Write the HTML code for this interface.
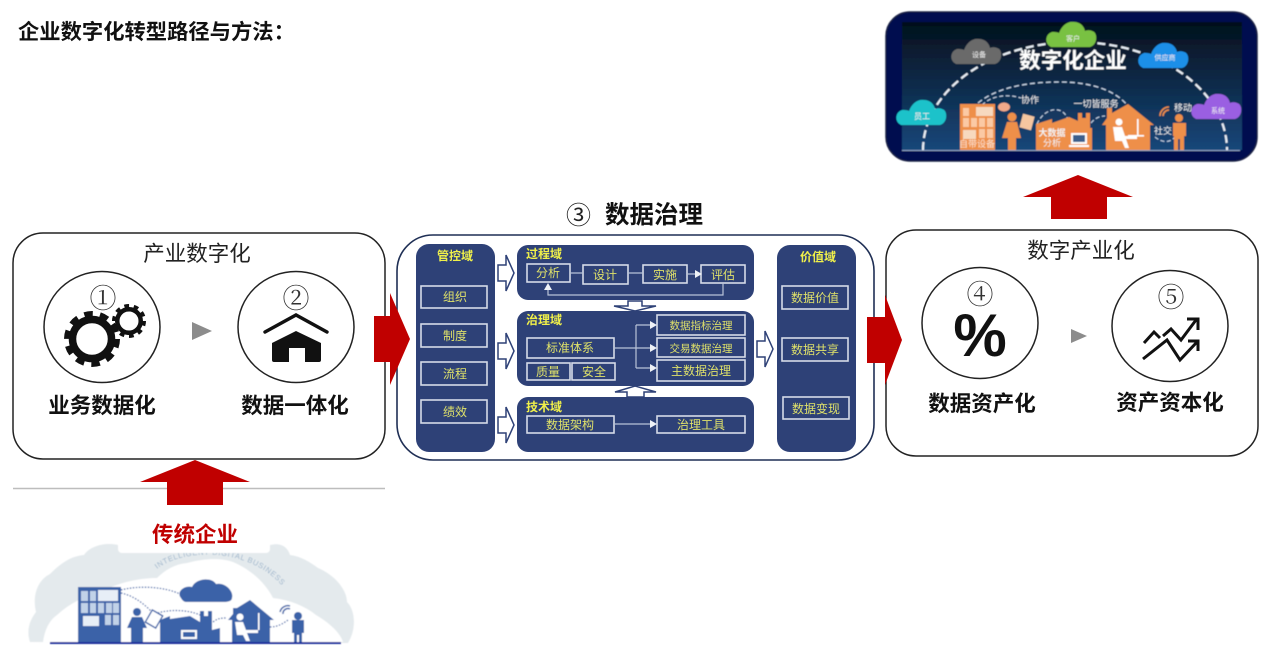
<!DOCTYPE html>
<html lang="zh">
<head>
<meta charset="utf-8">
<title>企业数字化转型路径与方法</title>
<style>
html,body{margin:0;padding:0;background:#fff;}
svg{display:block;}
text{font-family:"Liberation Sans","Noto Sans CJK SC",sans-serif;}
.lab{font-size:21.5px;font-weight:700;fill:#111;text-anchor:middle;}
.hd{font-size:21.5px;fill:#222;text-anchor:middle;}
.num{font-family:"Noto Serif CJK SC",serif;font-size:27px;fill:#333;text-anchor:middle;}
.y{font-size:12px;fill:#dfe16a;text-anchor:middle;}
.yb{font-size:12px;font-weight:700;fill:#f0f04a;text-anchor:middle;}
.bx{fill:#2e4177;stroke:#d5dbe8;stroke-width:1.6;}
.pn{fill:#2e4177;}
.cn{stroke:#b9c3d8;stroke-width:1.2;fill:none;}
.ah{fill:#eef1f6;}
.ha{fill:#fff;stroke:#2e4177;stroke-width:1.5;}
.w{fill:#f2f2f2;text-anchor:middle;}
.o{fill:#ee8f4a;}
.b{fill:#3a62a8;}
</style>
</head>
<body>
<svg width="1269" height="654" viewBox="0 0 1269 654" xmlns="http://www.w3.org/2000/svg">
<defs>
<linearGradient id="sky" x1="0" y1="0" x2="0" y2="1"><stop offset="0" stop-color="#04101c"/><stop offset="1" stop-color="#18477a"/></linearGradient>
<filter id="bl"><feGaussianBlur stdDeviation="0.45"/></filter>
<path id="cl" d="M-22 8a8 8 0 0 1 1-15c3 0 5 0 7 1 3-8 9-12 15-11 6 0 10 4 11 9 2-1 5-1 7 0 6 1 6 14-2 16z"/>
</defs>
<rect width="1269" height="654" fill="#fff"/>

<text x="18" y="39" font-size="21.3" font-weight="700" fill="#111">企业数字化转型路径与方法：</text>

<!-- Left box -->
<rect x="13" y="233" width="372" height="226" rx="30" fill="#fff" stroke="#222" stroke-width="1.5"/>
<text class="hd" x="197" y="261">产业数字化</text>
<ellipse cx="102" cy="327" rx="58" ry="55.5" fill="#fff" stroke="#222" stroke-width="1.5"/>
<ellipse cx="296" cy="327" rx="58" ry="55.5" fill="#fff" stroke="#222" stroke-width="1.5"/>
<text class="num" x="103" y="308">①</text>
<text class="num" x="296" y="308">②</text>
<g fill="none" stroke="#111">
<circle cx="92" cy="339" r="19.5" stroke-width="7.5"/>
<circle cx="92" cy="339" r="25" stroke-width="6" stroke-dasharray="8.5 7.2"/>
<circle cx="129" cy="321" r="11.75" stroke-width="4.5"/>
<circle cx="129" cy="321" r="15" stroke-width="4" stroke-dasharray="4.7 4.72"/>
</g>
<polyline points="265,332 296,315 327,332" fill="none" stroke="#111" stroke-width="3.4" stroke-linecap="round"/>
<path d="M296 331 L321 343 V360 q0 2-2 2 H305 V348 H289 V362 H274 q-2 0-2-2 V343Z" fill="#111"/>
<polygon points="192,322 212,331 192,340" fill="#8c8c8c"/>
<text class="lab" x="102" y="413">业务数据化</text>
<text class="lab" x="295" y="413">数据一体化</text>

<!-- Right box -->
<rect x="886" y="230" width="372" height="226" rx="30" fill="#fff" stroke="#222" stroke-width="1.5"/>
<text class="hd" x="1081" y="258">数字产业化</text>
<ellipse cx="980" cy="323" rx="58" ry="55.5" fill="#fff" stroke="#222" stroke-width="1.5"/>
<ellipse cx="1170" cy="326" rx="58" ry="55.5" fill="#fff" stroke="#222" stroke-width="1.5"/>
<text class="num" x="980" y="304">④</text>
<text class="num" x="1171" y="307">⑤</text>
<text x="980" y="356" font-size="60" font-weight="700" fill="#111" text-anchor="middle" style="font-family:'Liberation Sans',sans-serif">%</text>
<g fill="none" stroke="#111" stroke-width="3">
<path d="M1144 343L1154 332L1160 338M1163 336L1171 329L1181 340L1196 320"/>
<path d="M1187 319H1198V330"/>
<path d="M1143 359L1167 340L1180 360L1197 342"/>
<path d="M1188 341H1198V351"/>
</g>
<polygon points="1071,329 1087,336 1071,343" fill="#8c8c8c"/>
<text class="lab" x="982" y="411">数据资产化</text>
<text class="lab" x="1170" y="410">资产资本化</text>

<!-- Middle box -->
<text x="566" y="224" font-size="25" fill="#222" font-family="Noto Sans CJK SC">③</text>
<text x="605" y="223" font-size="24.5" font-weight="700" fill="#111">数据治理</text>
<rect x="397" y="235" width="477" height="225" rx="36" fill="#fff" stroke="#1f2f55" stroke-width="1.6"/>
<rect class="pn" x="416" y="244" width="79" height="208" rx="13"/>
<rect class="pn" x="517" y="245" width="237" height="55" rx="11"/>
<rect class="pn" x="517" y="311" width="237" height="75" rx="11"/>
<rect class="pn" x="517" y="397" width="237" height="55" rx="11"/>
<rect class="pn" x="777" y="245" width="79" height="207" rx="13"/>

<text class="yb" x="455" y="260">管控域</text>
<text class="yb" x="544" y="258">过程域</text>
<text class="yb" x="544" y="324">治理域</text>
<text class="yb" x="544" y="411">技术域</text>
<text class="yb" x="818" y="261">价值域</text>

<rect class="bx" x="421" y="286" width="66" height="22"/><text class="y" x="455" y="301">组织</text>
<rect class="bx" x="421" y="324" width="66" height="23"/><text class="y" x="455" y="340">制度</text>
<rect class="bx" x="421" y="362" width="66" height="23"/><text class="y" x="455" y="378">流程</text>
<rect class="bx" x="421" y="400" width="66" height="23"/><text class="y" x="455" y="416">绩效</text>

<rect class="bx" x="527" y="264" width="43" height="18"/><text class="y" x="548" y="277">分析</text>
<rect class="bx" x="583" y="265" width="45" height="19"/><text class="y" x="605" y="279">设计</text>
<rect class="bx" x="643" y="265" width="44" height="18"/><text class="y" x="665" y="279">实施</text>
<rect class="bx" x="701" y="265" width="44" height="18"/><text class="y" x="723" y="279">评估</text>
<path class="cn" d="M570 273H583M628 273H643M687 274H697M723 283V295H548V288"/>
<polygon class="ah" points="695,270 702,274 695,278"/>
<polygon class="ah" points="548,283 544,290 552,290"/>

<rect class="bx" x="527" y="338" width="87" height="20"/><text class="y" x="570" y="352">标准体系</text>
<rect class="bx" x="527" y="363" width="43" height="17"/><text class="y" x="548" y="376">质量</text>
<rect class="bx" x="572" y="363" width="43" height="17"/><text class="y" x="594" y="376">安全</text>
<rect class="bx" x="657" y="315" width="88" height="20"/><text class="y" x="701" y="329" style="font-size:10.5px">数据指标治理</text>
<rect class="bx" x="657" y="338" width="88" height="19"/><text class="y" x="701" y="352" style="font-size:10.5px">交易数据治理</text>
<rect class="bx" x="657" y="360" width="88" height="21"/><text class="y" x="701" y="375">主数据治理</text>
<path class="cn" d="M614 348H652M636 325V368M636 325H652M636 368H652"/>
<polygon class="ah" points="650,321 657,325 650,329"/>
<polygon class="ah" points="650,344 657,348 650,352"/>
<polygon class="ah" points="650,364 657,368 650,372"/>

<rect class="bx" x="527" y="416" width="87" height="17"/><text class="y" x="570" y="429">数据架构</text>
<rect class="bx" x="657" y="416" width="88" height="17"/><text class="y" x="701" y="429">治理工具</text>
<path class="cn" d="M614 424H652"/>
<polygon class="ah" points="650,420 657,424 650,428"/>

<rect class="bx" x="782" y="286" width="66" height="23"/><text class="y" x="815" y="302">数据价值</text>
<rect class="bx" x="782" y="338" width="66" height="23"/><text class="y" x="815" y="354">数据共享</text>
<rect class="bx" x="783" y="397" width="66" height="22"/><text class="y" x="816" y="413">数据变现</text>

<!-- hollow arrows -->
<polygon class="ha" points="498,265 506,265 506,255 514,273 506,291 506,281 498,281"/>
<polygon class="ha" points="498,343 506,343 506,333 514,351 506,369 506,359 498,359"/>
<polygon class="ha" points="498,417 506,417 506,407 514,425 506,443 506,433 498,433"/>
<polygon class="ha" points="757,341 765,341 765,331 773,349 765,367 765,357 757,357"/>
<polygon class="ha" points="614,306 628,306 628,301 642,301 642,306 656,306 635,311"/>
<polygon class="ha" points="615,392 635,386 656,392 644,392 644,397 627,397 627,392"/>

<!-- red arrows -->
<polygon points="374,316 390,316 390,293 410,339 390,385 390,362 374,362" fill="#c00000"/>
<polygon points="867,317 885,317 885,295 902,340 885,385 885,363 867,363" fill="#c00000"/>
<line x1="13" y1="488.5" x2="385" y2="488.5" stroke="#bdbdbd" stroke-width="1.4"/>
<polygon points="195,460 250,482 223,482 223,505 167,505 167,482 140,482" fill="#c00000"/>
<polygon points="1078,175 1133,197 1107,197 1107,219 1051,219 1051,197 1023,197" fill="#c00000"/>

<!-- Top picture -->
<g filter="url(#bl)">
<rect x="886" y="12" width="371" height="149" rx="24" fill="#02084f" stroke="#1a2345" stroke-width="1.5"/>
<rect x="902" y="22" width="340" height="128" fill="url(#sky)"/>
<line x1="902" y1="150.5" x2="1240" y2="150.5" stroke="#8ea3c5" stroke-width="1"/>
<path d="M923 150A152 108 0 0 1 1227 150" fill="none" stroke="#e8eef5" stroke-width="2.2" stroke-dasharray="8 4"/>
<path d="M978 103C1000 85 1035 82 1060 82C1090 82 1115 90 1127 105" fill="none" stroke="#c7d5e6" stroke-width="1.3" stroke-dasharray="5 3"/>
<path d="M982 105C990 97 1005 93 1021 98M1037 124C1045 106 1065 105 1068 121M1091 123C1095 118 1100 116 1105 116M1155 137C1162 143 1170 143 1175 137" fill="none" stroke="#c7d5e6" stroke-width="1.1" stroke-dasharray="4 2.5"/>

<use href="#cl" x="1073" y="39" fill="#79c143"/>
<use href="#cl" x="978" y="56" fill="#6a6a6a"/>
<use href="#cl" x="1165" y="60" fill="#1e8fe8"/>
<use href="#cl" x="923" y="117" fill="#1fc2ca"/>
<use href="#cl" x="1218" y="111" fill="#9a5fe2"/>
<text class="w" x="1073" y="41" font-size="7">客户</text>
<text class="w" x="979" y="57" font-size="7">设备</text>
<text class="w" x="1165" y="60" font-size="7">供应商</text>
<text class="w" x="922" y="119" font-size="8">员工</text>
<text class="w" x="1218" y="113" font-size="7">系统</text>
<text x="1073" y="68" font-size="21.5" font-weight="700" fill="#fff" text-anchor="middle">数字化企业</text>

<rect class="o" x="960" y="104" width="35" height="46"/>
<g fill="#fbc9a4">
<rect x="963" y="108" width="6" height="8"/>
<rect x="963" y="118" width="6" height="9"/><rect x="971" y="118" width="6" height="9"/><rect x="979" y="118" width="6" height="9"/><rect x="987" y="118" width="6" height="9"/>
<rect x="979" y="129" width="6" height="9"/><rect x="987" y="129" width="6" height="9"/>
</g>
<rect x="976" y="107" width="17" height="9" fill="#f7d9bf"/>
<rect x="963" y="130" width="13" height="9" fill="#f7d9bf"/>
<text class="w" x="977" y="147" font-size="9" style="fill:#fde3cf">自带设备</text>

<ellipse cx="1004" cy="107" rx="6" ry="4.5" fill="#f3a989"/>
<circle class="o" cx="1012" cy="117" r="4.5"/>
<path class="o" d="M1007 122H1017L1021 138H1016V150H1008V138H1002Z"/>
<rect x="1021" y="115" width="12" height="14" fill="#f6c6a0" transform="rotate(15 1027 122)"/>
<text class="w" x="1030" y="103" font-size="9">协作</text>

<path class="o" d="M1036 124L1052 119V123L1069 117L1078 121V113H1082V118H1086V113H1090V128L1092 128V150H1036Z"/>
<text class="w" x="1052" y="136" font-size="9" style="font-weight:700">大数据</text>
<text class="w" x="1052" y="146" font-size="9">分析</text>
<rect x="1071" y="133" width="16" height="11" fill="#fff"/>
<rect x="1073" y="135" width="12" height="7" fill="#3d5f8c"/>
<rect x="1069" y="145" width="20" height="2" fill="#fff"/>

<text class="w" x="1096" y="107" font-size="9">一切皆服务</text>
<path class="o" d="M1106 125H1102L1107 118V108H1112V113L1128 104L1154 125H1150V150H1106Z"/>
<circle cx="1119" cy="122" r="3.5" fill="#fff"/>
<path d="M1113 127H1122L1125 136H1137V139H1126L1129 148H1125L1122 141H1115Z" fill="#fff"/>
<rect x="1137" y="119" width="1.6" height="17" fill="#fff"/>
<rect x="1128" y="135" width="16" height="1.6" fill="#fff"/>

<text class="w" x="1163" y="134" font-size="9">社交</text>
<text class="w" x="1183" y="111" font-size="9">移动</text>
<path d="M1160 116A9 9 0 0 1 1169 107M1163 116A6 6 0 0 1 1169 110" fill="none" stroke="#ee8f4a" stroke-width="1.6"/>
<circle class="o" cx="1179" cy="118" r="4"/>
<path class="o" d="M1173 123H1186V136H1184V150H1180V139H1178V150H1174V136H1173Z"/>
</g>

<!-- Bottom picture -->
<g filter="url(#bl)">
<path d="M30 642C26 630 30 620 36 612C32 595 38 580 50 574C62 562 72 556 84 555C90 546 105 542 118 545H270C282 542 288 548 290 555C300 556 310 562 318 568C335 575 347 590 347 602C355 610 357 628 348 643Z" fill="#e4eaed"/>
<path d="M43 642C45 628 50 620 57 615C70 603 85 596 100 592C120 582 140 578 157 578C165 570 175 564 187 563C205 558 222 558 233 562C252 570 266 584 273 598C290 600 305 606 316 615C328 622 340 632 343 642Z" fill="#fff"/>
<path id="tp" d="M157 569C185 547 255 547 287 592" fill="none"/>
<text font-size="7.5" fill="#9db5cc"><textPath href="#tp" textLength="136">INTELLIGENT DIGITAL BUSINESS</textPath></text>
<rect x="118" y="515" width="152" height="38" rx="4" fill="#fff"/>
<line x1="50" y1="643" x2="341" y2="643" stroke="#1d2f9c" stroke-width="2"/>

<rect class="b" x="78" y="587" width="43" height="55"/>
<g fill="#c1d2e8">
<rect x="81" y="591" width="7" height="10"/><rect x="90" y="591" width="6" height="10"/>
<rect x="81" y="603" width="7" height="10"/><rect x="90" y="603" width="6" height="10"/><rect x="98" y="603" width="6" height="10"/><rect x="106" y="603" width="6" height="10"/><rect x="113" y="603" width="6" height="10"/>
<rect x="105" y="615" width="6" height="10"/><rect x="113" y="615" width="6" height="10"/>
<rect x="98" y="590" width="20" height="11" fill="#e7eef7"/>
<rect x="83" y="616" width="16" height="10" fill="#e7eef7"/>
</g>
<path class="b" d="M181 598C176 592 184 585 192 587C196 578 212 577 216 584C226 582 234 592 232 598C232 601 228 602 224 602H186C184 602 182 600 181 598Z"/>
<path d="M121 590C140 585 165 587 180 594M121 593C135 596 145 605 152 612M155 614C170 608 195 610 205 618M213 622C218 618 222 618 226 618M270 627C278 627 284 623 288 620" fill="none" stroke="#3a62a8" stroke-width="1.2" stroke-dasharray="1.5 1.5"/>
<circle class="b" cx="137" cy="612" r="4"/>
<path class="b" d="M132 617H142L147 628H143V642H131V628H127Z"/>
<rect x="148" y="612" width="12" height="14" fill="#fff" stroke="#3a62a8" stroke-width="1.4" transform="rotate(30 154 619)"/>
<path class="b" d="M160 620L170 616V619L190 616L200 622V611H204V616H208V611H212V630L220 628V642H160Z"/>
<rect x="181" y="630" width="16" height="9" fill="#fff"/>
<rect x="183" y="632" width="12" height="5" fill="#3a62a8"/>
<path class="b" d="M232 620H228L233 614V608H237L250 600L274 620H270V642H232Z"/>
<circle cx="240" cy="617" r="3.5" fill="#fff"/>
<path d="M235 622H243L246 630H258V633H247L250 641H246L243 635H237Z" fill="#fff"/>
<rect x="258" y="613" width="1.5" height="17" fill="#fff"/>
<circle class="b" cx="298" cy="616" r="4"/>
<path class="b" d="M292 620H304V633H302V642H299V635H297V642H294V633H292Z"/>
<path d="M280 612A8 8 0 0 1 290 606M283 614A5 5 0 0 1 290 609" fill="none" stroke="#3a62a8" stroke-width="1.5"/>
</g>
<text x="195" y="542" font-size="21.5" font-weight="700" fill="#c00000" text-anchor="middle">传统企业</text>
</svg>
</body>
</html>
